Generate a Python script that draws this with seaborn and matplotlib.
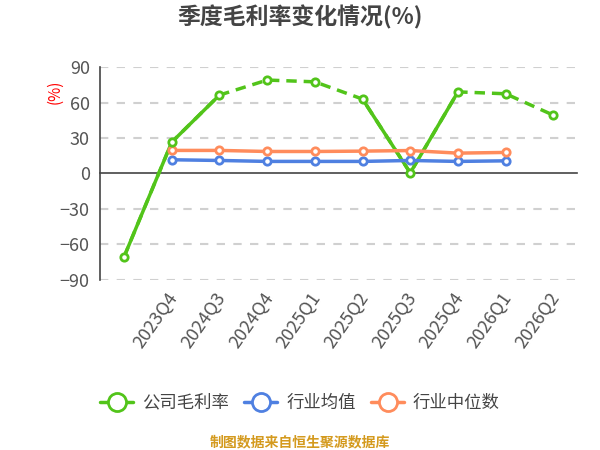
import matplotlib
matplotlib.use("Agg")
import matplotlib.pyplot as plt
import matplotlib.transforms as mtransforms
from matplotlib.lines import Line2D
import seaborn as sns
import pandas as pd

# === data ===
quarters = ["", "2023Q4", "2024Q3", "2024Q4", "2025Q1", "2025Q2",
            "2025Q3", "2025Q4", "2026Q1", "2026Q2"]
company = [-70.5, 26.5, 66.3, 79.0, 77.5, 62.9, 0.5, 69.0, 67.4, 49.3]
ind_mean = [None, 11.6, 11.0, 10.2, 10.2, 10.2, 11.0, 10.2, 10.7, None]
ind_median = [None, 19.5, 19.5, 18.6, 18.6, 18.9, 19.4, 17.2, 17.8, None]
yticks = [-90, -60, -30, 0, 30, 60, 90]

names = ["公司毛利率", "行业均值", "行业中位数"]
colors = ["#52c41a", "#4f80e1", "#ff8c5c"]

sns.set_style("white")
plt.rcParams["font.family"] = ["Noto Sans CJK SC", "DejaVu Sans"]

df = pd.DataFrame({"x": range(len(quarters)), names[0]: company,
                   names[1]: ind_mean, names[2]: ind_median})

fig = plt.figure(figsize=(6, 4.5), dpi=100)
ax = fig.add_axes([0.167, 0.378, 0.795, 0.473])

# grid
for v in yticks:
    if v != 0:
        ax.axhline(v, color="#d0d0d0", lw=1.5, ls=(0, (4, 4)), zorder=0)

# company line: dashed overall, solid on the steep stretches
sns.lineplot(data=df, x="x", y=names[0], ax=ax, color=colors[0], lw=2.5,
             ls=(0, (3, 2)), zorder=3)
for a, b in [(0, 2), (5, 7)]:
    seg = df.iloc[a:b + 1]
    sns.lineplot(data=seg, x="x", y=names[0], ax=ax, color=colors[0], lw=2.5, zorder=3)
ax.scatter(df["x"], df[names[0]], s=28, facecolor="white", edgecolor=colors[0],
           linewidth=2, zorder=5)

for n, c in zip(names[1:], colors[1:]):
    sub = df.dropna(subset=[n])
    sns.lineplot(data=sub, x="x", y=n, ax=ax, color=c, lw=2.5, zorder=3)
    ax.scatter(sub["x"], sub[n], s=28, facecolor="white", edgecolor=c,
               linewidth=2, zorder=4)

ax.set_xlim(-0.5, len(quarters) - 0.5)
ax.set_ylim(-90, 90)
ax.set_yticks(yticks)
ax.tick_params(axis="y", colors="#555555", labelsize=13, length=4, width=1.2)
for s in ["top", "right"]:
    ax.spines[s].set_visible(False)
ax.spines["left"].set_color("#444444")
ax.spines["left"].set_linewidth(1.2)
ax.spines["bottom"].set_position(("data", 0))
ax.spines["bottom"].set_color("#444444")
ax.spines["bottom"].set_linewidth(1.2)
ax.set_xticks([i + 0.5 for i in range(len(quarters))])
ax.set_xticklabels([])
ax.tick_params(axis="x", length=5, width=1.2, colors="#444444", direction="out")
ax.set_xlabel("")
ax.set_ylabel("")

trans = mtransforms.blended_transform_factory(ax.transData, ax.transAxes)
for i, q in enumerate(quarters):
    ax.text(i + 0.05, -0.07, q, transform=trans, rotation=55, ha="right",
            va="center", rotation_mode="anchor", fontsize=13, color="#555555")

fig.text(0.092, 0.795, "(%)", rotation=90, color="red", fontsize=11,
         ha="center", va="center")

fig.text(0.5, 0.962, "季度毛利率变化情况(%)", ha="center", va="center",
         fontsize=16.5, fontweight="bold", color="#444444")

handles = [Line2D([0], [0], color=c, lw=2.5, marker="o", markersize=13,
                  markerfacecolor="white", markeredgecolor=c, markeredgewidth=2)
           for c in colors]
fig.legend(handles, names, loc="center", bbox_to_anchor=(0.5, 0.105), ncol=3,
           frameon=False, fontsize=12.5, labelcolor="#444444", handlelength=1.9,
           columnspacing=0.9, handletextpad=0.5)

fig.text(0.5, 0.018, "制图数据来自恒生聚源数据库", ha="center", va="center",
         fontsize=10, fontweight="bold", color="#d49a1e")

fig.savefig("out.png", dpi=100, facecolor="white")
